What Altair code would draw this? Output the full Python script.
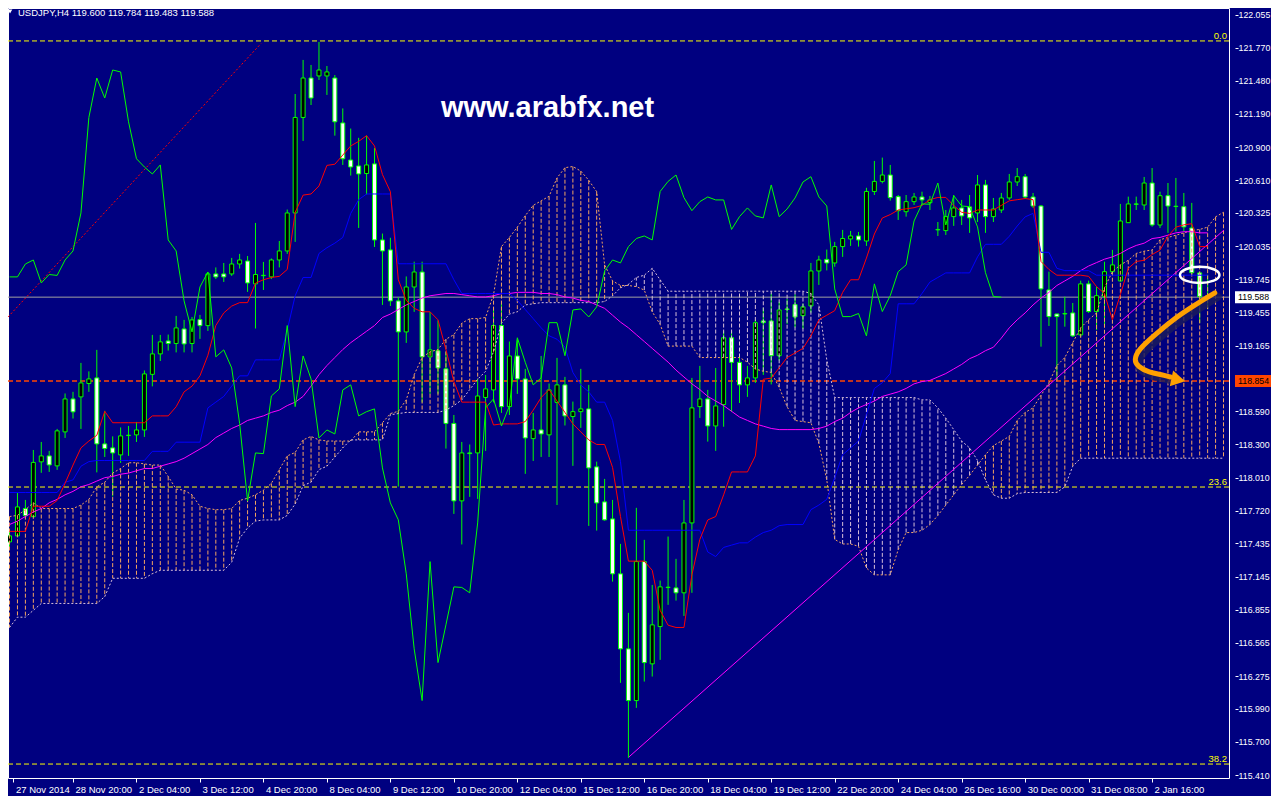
import altair as alt
import pandas as pd

# ---------------- data ----------------
OPEN = [117.448, 117.501, 117.740, 117.669, 118.148, 118.200, 118.113, 118.410, 118.698, 118.716,
        118.833, 118.882, 118.305, 118.270, 118.209, 118.378, 118.384, 118.427, 118.913, 119.092,
        119.205, 119.183, 119.310, 119.183, 119.392, 119.339, 119.791, 119.791, 119.791, 119.878,
        119.904, 119.704, 119.776, 119.765, 119.913, 119.992, 120.324, 121.159, 121.504, 121.522,
        121.522, 121.504, 121.111, 120.787, 120.735, 120.669, 120.753, 120.088, 120.001, 119.555,
        119.284, 119.677, 119.808, 119.066, 119.120, 118.961, 118.484, 117.807, 118.226, 118.226,
        118.711, 118.777, 119.340, 118.631, 119.074, 118.873, 118.351, 118.427, 118.384, 118.668,
        118.821, 118.544, 118.587, 118.611, 118.104, 117.798, 117.649, 117.169, 116.513, 116.061,
        117.276, 116.382, 116.708, 117.049, 117.046, 117.003, 117.614, 118.631, 118.698, 118.462,
        118.649, 119.233, 119.018, 118.821, 118.882, 119.380, 119.380, 119.076, 119.480, 119.523,
        119.426, 119.511, 119.817, 119.918, 119.887, 120.030, 120.097, 120.123, 120.079, 120.512,
        120.600, 120.656, 120.467, 120.335, 120.423, 120.464, 120.414, 120.176, 120.170, 120.292,
        120.368, 120.377, 120.324, 120.569, 120.292, 120.350, 120.455, 120.595, 120.641, 120.464,
        120.385, 119.651, 119.441, 119.441, 119.450, 119.258, 119.704, 119.462, 119.592, 119.811,
        119.730, 120.239, 120.403, 120.394, 120.586, 120.219, 120.475, 120.380, 120.379, 120.193,
        119.800, 119.600]
HIGH = [117.536, 117.877, 117.815, 118.252, 118.322, 118.244, 118.436, 118.746, 118.760, 119.013,
        118.939, 119.127, 118.594, 118.371, 118.449, 118.462, 118.497, 118.947, 119.258, 119.258,
        119.261, 119.424, 119.389, 119.415, 119.433, 119.808, 119.848, 119.887, 119.931, 119.966,
        119.948, 120.237, 119.896, 119.926, 120.079, 120.354, 121.364, 121.662, 121.618, 121.819,
        121.609, 121.530, 121.238, 121.062, 120.981, 121.000, 120.892, 120.144, 120.107, 119.586,
        119.769, 119.898, 119.898, 119.459, 119.384, 119.109, 118.558, 118.322, 118.300, 118.873,
        118.908, 119.494, 119.530, 119.200, 119.218, 118.961, 118.576, 119.074, 118.833, 119.057,
        118.891, 118.675, 118.961, 118.821, 118.150, 117.999, 117.815, 117.431, 116.828, 117.746,
        117.466, 117.072, 117.110, 117.495, 117.300, 117.815, 118.882, 118.987, 118.777, 118.969,
        119.293, 119.293, 119.083, 118.987, 119.389, 119.494, 119.619, 119.548, 119.572, 119.613,
        119.532, 119.887, 119.950, 120.004, 120.071, 120.176, 120.167, 120.158, 120.544, 120.779,
        120.808, 120.744, 120.481, 120.481, 120.499, 120.510, 120.473, 120.245, 120.350, 120.481,
        120.438, 120.481, 120.656, 120.613, 120.455, 120.499, 120.665, 120.717, 120.665, 120.499,
        120.394, 119.811, 119.441, 119.592, 119.537, 119.732, 119.732, 119.680, 119.898, 120.001,
        120.403, 120.467, 120.467, 120.639, 120.717, 120.510, 120.586, 120.630, 120.499, 120.412,
        119.811, 119.784]
LOW = [117.405, 117.492, 117.667, 117.667, 118.052, 118.060, 118.078, 118.357, 118.527, 118.436,
       118.760, 118.056, 118.191, 117.846, 118.139, 118.200, 118.322, 118.366, 118.808, 119.030,
       119.121, 119.105, 119.105, 119.105, 119.223, 119.293, 119.747, 119.721, 119.774, 119.838,
       119.634, 119.314, 119.651, 119.747, 119.848, 119.966, 120.071, 120.954, 121.268, 121.487,
       121.356, 121.000, 120.744, 120.651, 120.193, 120.486, 120.027, 119.520, 119.511, 117.932,
       119.188, 119.459, 118.668, 118.742, 118.742, 118.264, 117.693, 117.426, 117.842, 117.824,
       118.244, 118.668, 118.576, 118.558, 118.742, 118.043, 118.156, 118.191, 118.191, 117.771,
       118.466, 118.113, 118.445, 117.588, 117.547, 117.634, 117.101, 116.216, 115.560, 115.997,
       116.227, 116.271, 116.417, 116.898, 116.935, 116.801, 117.003, 118.532, 118.325, 118.244,
       118.455, 118.585, 118.663, 118.716, 118.838, 118.908, 118.825, 119.034, 119.354, 119.323,
       119.310, 119.452, 119.695, 119.822, 119.854, 119.940, 120.036, 120.030, 120.036, 120.481,
       120.583, 120.432, 120.263, 120.292, 120.394, 120.394, 120.350, 120.123, 120.132, 120.211,
       120.219, 120.150, 120.245, 120.150, 120.245, 120.324, 120.438, 120.560, 120.446, 120.368,
       119.155, 119.336, 118.864, 119.330, 119.240, 119.240, 119.450, 119.301, 119.330, 119.782,
       119.721, 120.237, 120.350, 120.350, 120.204, 120.193, 120.150, 120.161, 120.161, 119.782,
       119.363, 119.483]
CLOSE = [117.501, 117.754, 117.678, 118.143, 118.200, 118.121, 118.419, 118.698, 118.585, 118.838,
         118.873, 118.305, 118.265, 118.226, 118.375, 118.380, 118.427, 118.917, 119.092, 119.197,
         119.183, 119.319, 119.179, 119.389, 119.339, 119.791, 119.765, 119.765, 119.878, 119.913,
         119.712, 119.786, 119.778, 119.913, 119.992, 120.324, 121.159, 121.504, 121.329, 121.574,
         121.557, 121.121, 120.798, 120.726, 120.665, 120.744, 120.088, 119.992, 119.555, 119.284,
         119.677, 119.808, 119.066, 119.127, 118.969, 118.484, 117.807, 118.226, 118.220, 118.724,
         118.786, 119.340, 118.631, 119.074, 118.873, 118.357, 118.427, 118.392, 118.777, 118.821,
         118.550, 118.587, 118.611, 118.095, 117.789, 117.641, 117.169, 116.513, 116.061, 117.276,
         116.393, 116.723, 117.055, 117.050, 117.003, 117.614, 118.620, 118.698, 118.462, 118.637,
         119.233, 119.018, 118.821, 118.882, 119.365, 119.365, 119.076, 119.476, 119.485, 119.415,
         119.503, 119.817, 119.913, 119.887, 120.030, 120.101, 120.123, 120.088, 120.512, 120.600,
         120.656, 120.458, 120.344, 120.423, 120.464, 120.438, 120.438, 120.180, 120.292, 120.368,
         120.298, 120.281, 120.569, 120.292, 120.359, 120.455, 120.595, 120.641, 120.464, 120.385,
         119.660, 119.418, 119.418, 119.445, 119.249, 119.704, 119.462, 119.601, 119.811, 119.870,
         120.254, 120.403, 120.400, 120.586, 120.219, 120.475, 120.385, 120.379, 120.202, 119.802,
         119.593, 119.588]

TENKAN = ([117.54] * 3 + [117.76] * 3 + [117.81, 117.96, 118.12, 118.27, 118.33, 118.38, 118.59]
          + [118.49] * 5 + [118.55] * 3
          + [118.63, 118.76, 118.81, 118.90, 119.08, 119.34, 119.45, 119.51] + [119.54] * 2
          + [119.71, 119.74, 119.76, 119.77, 119.83, 120.33, 120.48, 120.49, 120.56, 120.74, 120.75,
             120.83, 120.91, 120.95, 121.00, 120.91, 120.66, 120.51, 119.74, 119.56, 119.49]
          + [119.46] * 2 + [119.39, 119.13, 118.85] + [118.67] * 4 + [118.47] + [118.48] * 2
          + [118.48, 118.50, 118.60, 118.71, 118.78, 118.68, 118.58, 118.48, 118.41, 118.34]
          + [118.30] * 2 + [118.10, 117.67] + [117.28] * 3 + [117.20, 116.85, 116.72] + [116.70] * 2
          + [117.16, 117.47, 117.64, 117.67, 117.86] + [118.06] * 3
          + [118.20, 118.87, 118.88, 118.97, 119.06, 119.10, 119.14, 119.25, 119.39, 119.43, 119.47, 119.63]
          + [119.74] * 2 + [119.93, 120.14, 120.28, 120.31, 120.35, 120.36, 120.37, 120.39, 120.44]
          + [120.46] * 2 + [120.39, 120.33, 120.32] + [120.35] * 3
          + [120.39, 120.43, 120.44, 120.45, 120.44, 119.90, 119.83] + [119.78] * 4
          + [119.77, 119.68, 119.62, 119.39, 119.61, 119.84, 119.90, 119.91, 119.96, 120.00, 120.12,
             120.20, 120.22, 120.23] + [120.03] * 2)

KIJUN = ([117.88] * 7 + [117.97, 117.99, 118.11, 118.15] + [118.16] * 7 + [118.24] * 3 + [118.32] * 4
         + [118.62, 118.67, 118.72, 118.81] + [118.90] * 2 + [119.04] * 4
         + [119.30, 119.60, 119.76, 119.76, 119.97, 120.02, 120.06, 120.11, 120.32, 120.44]
         + [120.49] * 4 + [119.88] * 7 + [119.74] + [119.62] * 7
         + [119.56, 119.48, 119.40, 119.32, 119.25, 119.22, 119.15, 118.93, 118.82, 118.76]
         + [118.67] * 2 + [118.51, 118.15] + [117.55] * 10 + [117.36, 117.32, 117.40, 117.42]
         + [117.44] * 2 + [117.49, 117.53, 117.55, 117.59] + [117.60] * 3
         + [117.73, 117.77, 117.82, 118.01, 118.21, 118.27, 118.33, 118.56, 118.79, 118.84, 118.92]
         + [119.53] * 3 + [119.62, 119.72, 119.76] + [119.80] * 4 + [119.94] + [120.05] * 3
         + [120.12, 120.21, 120.29, 120.32] + [119.98] * 2 + [119.84] + [119.82] * 4 + [119.78] * 15)

MA = [117.60, 117.63, 117.67, 117.71, 117.74, 117.79, 117.82, 117.86, 117.89, 117.93,
      117.95, 117.98, 118.01, 118.02, 118.04, 118.05, 118.07, 118.09, 118.09, 118.11,
      118.13, 118.15, 118.18, 118.22, 118.26, 118.30, 118.36, 118.40, 118.44, 118.47,
      118.51, 118.53, 118.55, 118.58, 118.60, 118.64, 118.67, 118.72, 118.81, 118.91,
      118.99, 119.06, 119.13, 119.19, 119.24, 119.29, 119.34, 119.41, 119.44, 119.48,
      119.52, 119.55, 119.58, 119.60, 119.61, 119.62, 119.62, 119.61, 119.60, 119.59,
      119.59, 119.60, 119.62, 119.62, 119.63, 119.63, 119.63, 119.62, 119.62, 119.61,
      119.59, 119.58, 119.56, 119.55, 119.52, 119.49, 119.43, 119.37, 119.32, 119.26,
      119.20, 119.14, 119.08, 119.02, 118.95, 118.89, 118.83, 118.78, 118.72, 118.68,
      118.64, 118.59, 118.54, 118.51, 118.48, 118.46, 118.44, 118.43, 118.43, 118.43,
      118.43, 118.43, 118.44, 118.46, 118.50, 118.53, 118.58, 118.62, 118.65, 118.68,
      118.72, 118.74, 118.76, 118.79, 118.83, 118.85, 118.86, 118.89, 118.92, 118.96,
      119.00, 119.05, 119.08, 119.12, 119.15, 119.23, 119.32, 119.39, 119.45, 119.52,
      119.58, 119.63, 119.69, 119.73, 119.77, 119.82, 119.86, 119.89, 119.92, 119.94,
      119.97, 120.01, 120.04, 120.06, 120.10, 120.11, 120.13, 120.15, 120.16, 120.16,
      120.15, 120.15]

SPAN_A = [117.67, 117.68, 117.73, 117.79, 117.74, 117.74, 117.74, 117.74, 117.74, 117.77,
          117.82, 117.93, 117.97, 118.05, 118.09, 118.14, 118.14, 118.13, 118.12, 118.12,
          118.02, 117.91, 117.90, 117.86, 117.76, 117.74, 117.73, 117.73, 117.74, 117.81,
          117.83, 117.86, 117.90, 117.96, 118.08, 118.20, 118.23, 118.34, 118.37, 118.34,
          118.33, 118.33, 118.33, 118.33, 118.41, 118.41, 118.41, 118.49, 118.57, 118.59,
          118.69, 118.91, 119.06, 119.11, 119.13, 119.22, 119.26, 119.36, 119.40, 119.40,
          119.41, 119.61, 120.03, 120.11, 120.20, 120.30, 120.39, 120.43, 120.47, 120.63,
          120.72, 120.73, 120.69, 120.61, 120.51, 119.87, 119.73, 119.69, 119.69, 119.68,
          119.65, 119.46, 119.35, 119.16, 119.16, 119.16, 119.16, 119.06, 119.06, 119.06,
          119.06, 119.06, 119.06, 119.02, 118.96, 118.94, 118.93, 118.80, 118.63, 118.51,
          118.50, 118.49, 118.31, 117.99, 117.47, 117.43, 117.43, 117.41, 117.22, 117.16,
          117.16, 117.16, 117.38, 117.53, 117.53, 117.55, 117.60, 117.68, 117.77, 117.86,
          117.95, 118.03, 118.12, 118.21, 118.29, 118.33, 118.37, 118.51, 118.58, 118.62,
          118.73, 118.84, 118.99, 119.06, 119.19, 119.32, 119.39, 119.45, 119.67, 119.81,
          119.87, 119.91, 119.97, 119.99, 120.00, 120.09, 120.11, 120.13, 120.15, 120.17,
          120.18, 120.20, 120.29, 120.33]
SPAN_B = [116.70, 116.79, 116.79, 116.85, 116.91, 116.91, 116.91, 116.91, 116.91, 116.91,
          116.91, 116.91, 116.97, 117.13, 117.13, 117.13, 117.13, 117.13, 117.17, 117.20,
          117.20, 117.20, 117.20, 117.20, 117.20, 117.20, 117.20, 117.20, 117.27, 117.48,
          117.57, 117.63, 117.64, 117.64, 117.64, 117.68, 117.78, 117.94, 117.97, 118.08,
          118.11, 118.19, 118.27, 118.34, 118.34, 118.34, 118.34, 118.34, 118.56, 118.57,
          118.58, 118.58, 118.58, 118.58, 118.58, 118.60, 118.64, 118.69, 118.78, 118.87,
          118.94, 119.11, 119.36, 119.44, 119.46, 119.52, 119.53, 119.54, 119.54, 119.54,
          119.54, 119.54, 119.54, 119.54, 119.54, 119.55, 119.60, 119.67, 119.70, 119.76,
          119.78, 119.84, 119.74, 119.64, 119.64, 119.64, 119.64, 119.64, 119.64, 119.64,
          119.64, 119.64, 119.64, 119.64, 119.64, 119.64, 119.64, 119.64, 119.64, 119.64,
          119.64, 119.62, 119.52, 119.04, 118.71, 118.71, 118.71, 118.71, 118.71, 118.71,
          118.71, 118.71, 118.71, 118.71, 118.71, 118.69, 118.69, 118.62, 118.53, 118.43,
          118.33, 118.27, 118.16, 117.99, 117.86, 117.83, 117.83, 117.87, 117.88, 117.88,
          117.88, 117.88, 117.88, 117.93, 118.11, 118.18, 118.18, 118.18, 118.18, 118.18,
          118.18, 118.18, 118.18, 118.18, 118.18, 118.18, 118.18, 118.18, 118.18, 118.18,
          118.18, 118.18, 118.18, 118.18]
CHIKOU_SHIFT = 26

TIME_LABELS = ["27 Nov 2014", "28 Nov 20:00", "2 Dec 04:00", "3 Dec 12:00", "4 Dec 20:00",
               "8 Dec 04:00", "9 Dec 12:00", "10 Dec 20:00", "12 Dec 04:00", "15 Dec 12:00",
               "16 Dec 20:00", "18 Dec 04:00", "19 Dec 12:00", "22 Dec 20:00", "24 Dec 04:00",
               "26 Dec 16:00", "30 Dec 00:00", "31 Dec 08:00", "2 Jan 16:00"]
PRICE_TICKS = [122.055, 121.770, 121.480, 121.190, 120.900, 120.610, 120.325, 120.035, 119.745,
               119.455, 119.165, 118.590, 118.300, 118.010, 117.720, 117.435, 117.145, 116.855,
               116.565, 116.275, 115.990, 115.700, 115.410]
FIB_LEVELS = [121.828, 117.928, 115.506]
FIB_NAMES = ["0.0", "23.6", "38.2"]
BID = 119.588
ALERT_LEVEL = 118.854
RED_TREND_I = [-0.19, 31.69]
RED_TREND_P = [119.415, 121.805]
MAG_TREND_I = [78.06, 153.06]
MAG_TREND_P = [115.568, 120.175]
ARROW_I = [151.9, 149.4, 146.56, 144.06, 142.3, 141.7, 142.2, 143.6, 145.3, 146.3]
ARROW_P = [119.625, 119.52, 119.39, 119.24, 119.13, 119.04, 118.98, 118.93, 118.91, 118.89]
ARROW_TIP = (147.3, 118.866)
ELLIPSE_AT = (150.0, 119.782)
HEADER = "USDJPY,H4  119.600 119.784 119.483 119.588"
WATERMARK = "www.arabfx.net"

# ---------------- layout / styles ----------------
X_DOMAIN = [0.4375, 153.0625]
Y_DOMAIN = [115.384, 122.116]
W, H = 1221, 770
PAD_RIGHT, PAD_BOTTOM = 42, 18
NAVY = "#000080"
LIME = "#00FF00"
SANDY = "#F4A460"
THISTLE = "#D8BFD8"
FONT = "Liberation Sans"
FS = 9.5
FS_Y = 8.8

xs = alt.Scale(domain=X_DOMAIN, nice=False, zero=False)
ys = alt.Scale(domain=Y_DOMAIN, nice=False, zero=False)
label_expr = "[" + ",".join("'%s'" % s for s in TIME_LABELS) + "][round(datum.value / 8)]"
tick_pos = [0.5] + [8 * k for k in range(1, len(TIME_LABELS))]
x_axis = alt.Axis(values=tick_pos, labelExpr=label_expr, title=None, grid=False, domain=False,
                  tickSize=4, tickColor="white", labelColor="white", labelFont=FONT,
                  labelFontSize=FS, labelAlign="left", labelBaseline="top", labelPadding=2,
                  labelOffset=2, labelOverlap=False, labelFlush=False, labelBound=False,
                  orient="bottom")
y_axis = alt.Axis(values=PRICE_TICKS, format=".3f", title=None, grid=False, domain=False,
                  tickSize=3, tickColor="white", labelColor="white", labelFont=FONT,
                  labelFontSize=FS_Y, labelAlign="left", labelBaseline="middle", labelPadding=0,
                  offset=6, orient="right", labelOverlap=False, labelFlush=False, labelBound=False)


def X(field):
    return alt.X(field, type="quantitative", scale=xs, axis=x_axis)


def Y(field):
    return alt.Y(field, type="quantitative", scale=ys, axis=y_axis)


def series_line(values, color, start=0, dash=None, width=1.0):
    df = pd.DataFrame({"i": list(range(start, start + len(values))), "v": values})
    kw = dict(color=color, strokeWidth=width, clip=True)
    if dash:
        kw["strokeDash"] = dash
    return alt.Chart(df).mark_line(**kw).encode(x=X("i"), y=Y("v"))


def seg_line(xv, yv, color, dash=None, width=1.0):
    df = pd.DataFrame({"i": xv, "v": yv})
    kw = dict(color=color, strokeWidth=width, clip=True)
    if dash:
        kw["strokeDash"] = dash
    return alt.Chart(df).mark_line(**kw).encode(x=X("i"), y=Y("v"))


N = len(CLOSE)
candles = pd.DataFrame({"i": list(range(N)), "o": OPEN, "h": HIGH, "l": LOW, "c": CLOSE})

wicks = alt.Chart(candles).mark_rule(color=LIME, strokeWidth=1, clip=True).encode(
    x=X("i"), y=Y("l"), y2="h")
bodies = alt.Chart(candles).transform_calculate(
    c2="abs(datum.c - datum.o) < 0.003 ? datum.o + 0.003 : datum.c"
).mark_bar(width=4, stroke=LIME, strokeWidth=1, clip=True).encode(
    x=X("i"), y=Y("o"), y2="c2:Q",
    fill=alt.condition("datum.c > datum.o", alt.value("black"), alt.value("white")))

cloud = pd.DataFrame({"i": list(range(len(SPAN_A))), "a": SPAN_A, "b": SPAN_B})
hatch_up = alt.Chart(cloud).transform_filter("datum.a >= datum.b").mark_rule(
    strokeWidth=1, strokeDash=[4, 2], color=SANDY, clip=True).encode(
    x=X("i"), y=Y("a"), y2="b")
hatch_dn = alt.Chart(cloud).transform_filter("datum.a < datum.b").mark_rule(
    strokeWidth=1, strokeDash=[4, 2], color=THISTLE, clip=True).encode(
    x=X("i"), y=Y("a"), y2="b")
span_a = alt.Chart(cloud).mark_line(color=SANDY, strokeWidth=1, strokeDash=[2, 2], clip=True).encode(
    x=X("i"), y=Y("a"))
span_b = alt.Chart(cloud).mark_line(color=THISTLE, strokeWidth=1, strokeDash=[2, 2], clip=True).encode(
    x=X("i"), y=Y("b"))

fib = pd.DataFrame({"p": FIB_LEVELS, "name": FIB_NAMES})
fib_rules = alt.Chart(fib).mark_rule(color="#FFFF00", strokeDash=[5, 3], strokeWidth=1, clip=True).encode(
    y=Y("p"))
fib_text = alt.Chart(fib).mark_text(color="#FFFF00", align="right", baseline="alphabetic", dy=-2,
                                    font=FONT, fontSize=FS).encode(
    x=alt.value(1219), y=Y("p"), text="name:N")

alert_rule = alt.Chart(pd.DataFrame({"p": [ALERT_LEVEL]})).mark_rule(
    color="#FF4500", strokeDash=[5, 3], strokeWidth=1.5, clip=True).encode(y=Y("p"))
bid_rule = alt.Chart(pd.DataFrame({"p": [BID]})).mark_rule(
    color="#A0A0A0", strokeWidth=1, clip=True).encode(y=Y("p"))

half = 6.0 * (Y_DOMAIN[1] - Y_DOMAIN[0]) / H
boxes = pd.DataFrame({"p": [BID, ALERT_LEVEL], "bg": ["#FFFFFF", "#FF4500"]})
box_rect = alt.Chart(boxes).transform_calculate(
    lo="datum.p - %f" % half, hi="datum.p + %f" % half
).mark_rect().encode(x=alt.value(W + 6), x2=alt.value(W + PAD_RIGHT), y=Y("lo"), y2="hi",
                     fill=alt.Fill("bg:N", scale=None))
box_text = alt.Chart(boxes).mark_text(align="left", baseline="middle", font=FONT, fontSize=FS_Y,
                                      color="black").encode(
    x=alt.value(W + 9), y=Y("p"), text=alt.Text("p:Q", format=".3f"))

chikou = series_line(CLOSE[CHIKOU_SHIFT:], LIME)
tenkan = series_line(TENKAN, "#FF0000")
kijun = series_line(KIJUN, "#0000FF")
ma = series_line(MA, "#FF00FF")
red_trend = seg_line(RED_TREND_I, RED_TREND_P, "#FF0000", dash=[2, 2])
mag_trend = seg_line(MAG_TREND_I, MAG_TREND_P, "#FF00FF")

header = alt.Chart(pd.DataFrame({"t": [HEADER]})).mark_text(
    align="left", baseline="middle", font=FONT, fontSize=FS, color="white").encode(
    x=alt.value(10), y=alt.value(4.5), text="t:N")
header_tri = alt.Chart(pd.DataFrame({"t": [HEADER]})).mark_point(
    shape="triangle-down", size=22, filled=True, color="white", opacity=1).encode(
    x=alt.value(2), y=alt.value(3.5))
watermark = alt.Chart(pd.DataFrame({"t": [WATERMARK]})).mark_text(
    align="center", baseline="alphabetic", font=FONT, fontSize=29, fontWeight="bold",
    color="white").encode(x=alt.value(539.5), y=alt.value(109), text="t:N")

ell = pd.DataFrame({"i": [ELLIPSE_AT[0]], "v": [ELLIPSE_AT[1]]})
ellipse = alt.Chart(ell).mark_point(
    shape="M -1 0 A 1 0.41 0 1 1 1 0 A 1 0.41 0 1 1 -1 0 Z", size=1560, filled=False,
    stroke="white", strokeWidth=2.5, opacity=1).encode(x=X("i"), y=Y("v"))

arrow_df = pd.DataFrame({"i": ARROW_I, "v": ARROW_P, "k": list(range(len(ARROW_I)))})
arrow_shadow = alt.Chart(arrow_df).mark_line(
    interpolate="basis", strokeWidth=8, color="#1C1C5A", opacity=0.8, xOffset=3, yOffset=4,
    strokeCap="round").encode(x=X("i"), y=Y("v"), order="k:Q")
arrow = alt.Chart(arrow_df).mark_line(
    interpolate="basis", strokeWidth=5, color="#FFA000", strokeCap="round").encode(
    x=X("i"), y=Y("v"), order="k:Q")
tip = pd.DataFrame({"i": [ARROW_TIP[0]], "v": [ARROW_TIP[1]]})
arrow_head = alt.Chart(tip).mark_point(
    shape="triangle-right", size=260, filled=True, color="#FFA000", opacity=1, angle=12).encode(
    x=X("i"), y=Y("v"))

chart = alt.layer(
    fib_rules, alert_rule, bid_rule,
    wicks, bodies,
    hatch_up, hatch_dn, span_a, span_b,
    ma, mag_trend, red_trend, kijun, tenkan, chikou,
    fib_text, box_rect, box_text,
    watermark, header, header_tri,
    ellipse, arrow_shadow, arrow, arrow_head,
).properties(
    width=W, height=H, background=NAVY,
    autosize=alt.AutoSizeParams(type="none"),
    padding={"left": 0, "top": 0, "right": PAD_RIGHT, "bottom": PAD_BOTTOM},
).configure_view(stroke="white", strokeWidth=1, fill=NAVY)

chart.save("out.html", embed_options={"renderer": "svg", "actions": False})
